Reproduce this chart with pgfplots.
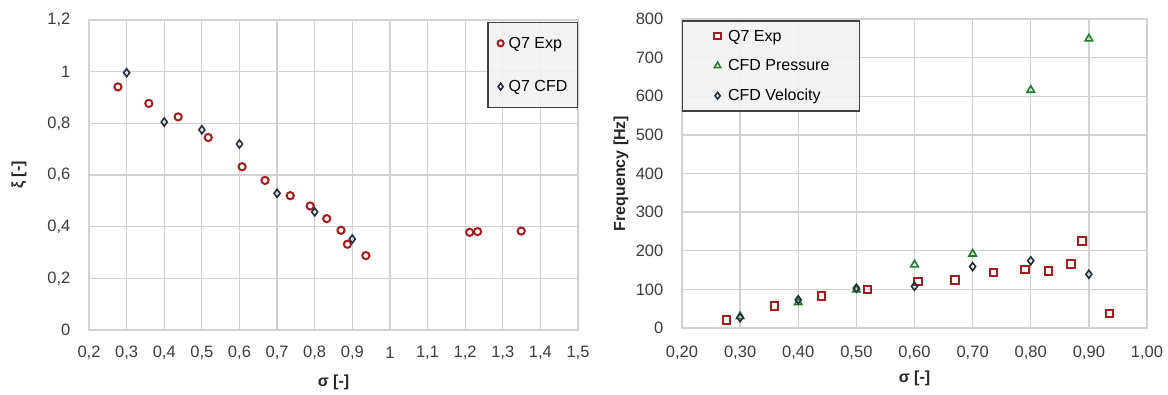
\documentclass[border=0pt]{standalone}
\usepackage{fontspec}
\setmainfont{Liberation Sans}
\usepackage{pgfplots}
\pgfplotsset{compat=1.18}

\definecolor{expred}{RGB}{165,28,28}
\definecolor{cfdgreen}{RGB}{30,125,40}
\definecolor{cfddark}{RGB}{35,45,60}
\definecolor{gridgray}{RGB}{210,210,210}
\definecolor{ticktext}{RGB}{60,60,60}
\definecolor{labeltext}{RGB}{38,38,38}

\pgfplotsset{
  panel/.style={
    scale only axis,
    anchor=south west,
    axis line style={draw=gridgray, line width=1.3pt},
    grid=major,
    major grid style={draw=gridgray, line width=1.3pt},
    major tick length=0pt,
    tick style={draw=none},
    /pgf/number format/assume math mode=true,
    tick label style={font=\fontsize{16.5}{19}\selectfont, text=ticktext, inner sep=0pt},
    yticklabel style={anchor=east, xshift=-18.5pt},
    label style={font=\fontsize{16}{19}\selectfont\bfseries, text=labeltext},
    legend style={font=\fontsize{16}{19}\selectfont, draw=black!75, line width=1.3pt,
      fill=black!5, fill opacity=0.9, text opacity=1,
      nodes={inner sep=2pt}},
    legend cell align=left,
    clip=false,
  },
  % legend symbol: a slightly smaller copy of the plot mark, with some room before it
  legsym/.style={legend image code/.code={%
      \path (-#1,0pt);
      \draw[##1, /tikz/every mark/.append style={scale=0.85}] plot coordinates {(0pt,0pt)};}},
  expcirc/.style={only marks, mark=o, mark size=3.6pt, mark options={draw=expred, line width=2pt}},
  cfddiam/.style={only marks, mark=diamond, mark size=4pt, mark options={draw=cfddark, line width=1.6pt}},
  expsq/.style={only marks, mark=square, mark size=3.7pt, mark options={draw=expred, line width=2pt}},
  cfdtri/.style={only marks, mark=triangle, mark size=4.3pt, mark options={draw=cfdgreen, line width=1.6pt}},
}

\begin{document}
\begin{tikzpicture}
\path[use as bounding box] (0,0) rectangle (1168pt,394pt);

% Loss coefficient against cavitation number
\begin{axis}[panel,
  at={(89pt,64pt)}, width=489pt, height=310pt,
  xmin=0.2, xmax=1.5, ymin=0, ymax=1.2,
  xtick={0.2,0.3,0.4,0.5,0.6,0.7,0.8,0.9,1.0,1.1,1.2,1.3,1.4,1.5},
  ytick={0,0.2,0.4,0.6,0.8,1.0,1.2},
  xticklabel style={anchor=center, yshift=-23pt, /pgf/number format/.cd, use comma, fixed, precision=1},
  yticklabel style={/pgf/number format/.cd, use comma, fixed, precision=1},
  xlabel={σ [-]}, ylabel={ξ [-]},
  x label style={at={([yshift=-52pt]axis description cs:0.5,0)}, anchor=center},
  y label style={at={([xshift=-70pt]axis description cs:0,0.5)}, anchor=center},
  legsym=4pt,
  legend style={at={(rel axis cs:1,0.9935)}, anchor=north east,
    inner xsep=8pt, inner ysep=12.3pt, row sep=26.7pt, column sep=3pt},
]
\addplot[expcirc] coordinates {
  (0.277,0.941) (0.359,0.877) (0.437,0.825) (0.517,0.745) (0.607,0.632)
  (0.668,0.579) (0.735,0.520) (0.788,0.480) (0.832,0.431) (0.870,0.386)
  (0.887,0.332) (0.936,0.288) (1.212,0.378) (1.233,0.381) (1.349,0.383)
};
\addlegendentry{Q7 Exp}
\addplot[cfddiam] coordinates {
  (0.3,0.996) (0.4,0.805) (0.5,0.775) (0.6,0.720) (0.7,0.529) (0.8,0.457) (0.9,0.352)
};
\addlegendentry{Q7 CFD}
\end{axis}

% Shedding frequency against cavitation number
\begin{axis}[panel,
  at={(682pt,66pt)}, width=465pt, height=309pt,
  xmin=0.2, xmax=1.0, ymin=0, ymax=800,
  xtick={0.2,0.3,0.4,0.5,0.6,0.7,0.8,0.9,1.0},
  ytick={0,100,...,800},
  xticklabel style={anchor=center, yshift=-25pt, /pgf/number format/.cd, use comma, fixed, fixed zerofill, precision=2},
  xlabel={σ [-]}, ylabel={Frequency [Hz]},
  x label style={at={([yshift=-50pt]axis description cs:0.5,0)}, anchor=center},
  y label style={at={([xshift=-61pt]axis description cs:0,0.5)}, anchor=center},
  legsym=6.3pt,
  legend style={at={(rel axis cs:0,0.9955)}, anchor=north west,
    inner xsep=28pt, inner ysep=6.8pt, row sep=13pt, column sep=5.3pt},
]
\addplot[expsq] coordinates {
  (0.277,21) (0.359,57) (0.440,83) (0.519,100) (0.606,121) (0.670,124)
  (0.736,144) (0.790,152) (0.831,148) (0.869,166) (0.888,225) (0.935,37)
};
\addlegendentry{Q7 Exp}
\addplot[cfdtri] coordinates {
  (0.3,30) (0.4,66) (0.5,99) (0.6,164) (0.7,192) (0.8,616) (0.9,749)
};
\addlegendentry{CFD Pressure}
\addplot[cfddiam] coordinates {
  (0.3,27) (0.4,73) (0.5,103) (0.6,108) (0.7,159) (0.8,174) (0.9,139)
};
\addlegendentry{CFD Velocity}
\end{axis}
\end{tikzpicture}
\end{document}
